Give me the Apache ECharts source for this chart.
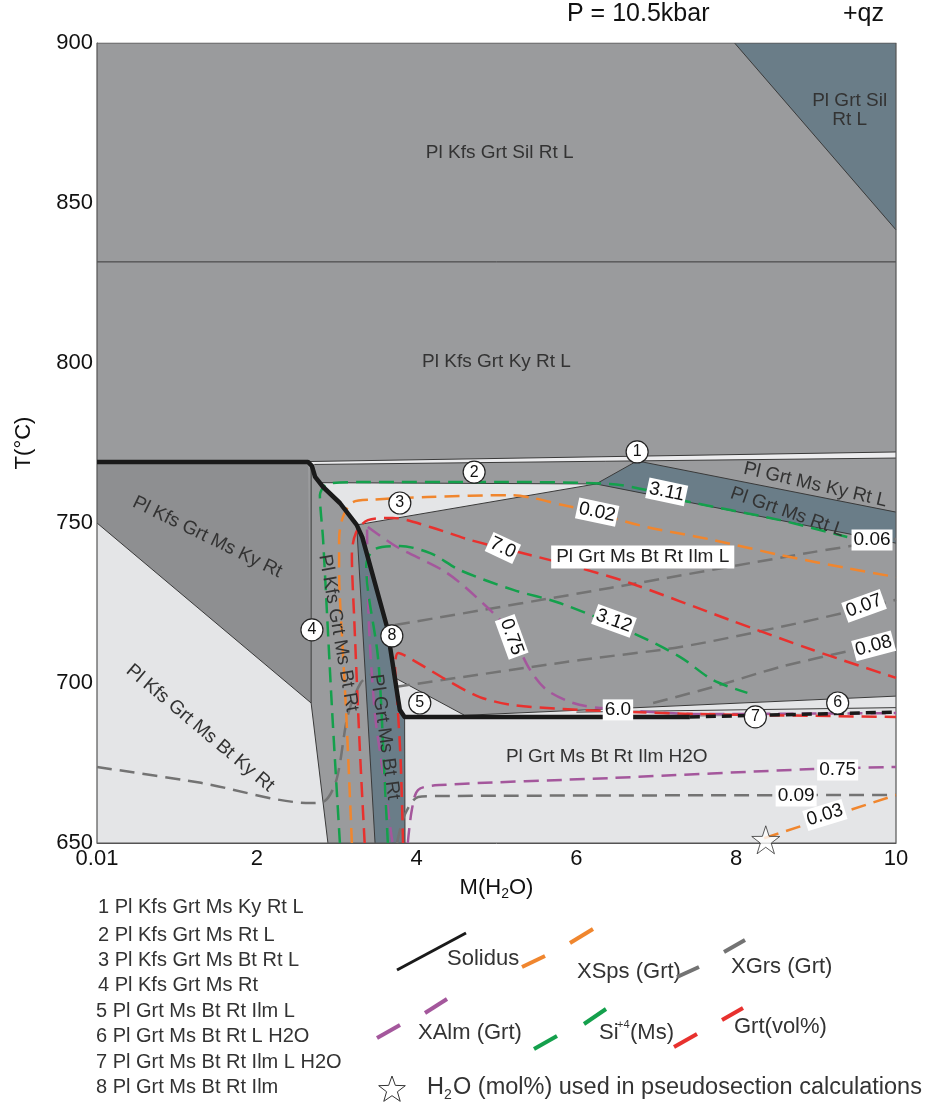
<!DOCTYPE html>
<html><head><meta charset="utf-8">
<script src="https://cdn.jsdelivr.net/npm/echarts@6/dist/echarts.min.js"></script>
<style>html,body{margin:0;padding:0;background:#fff}#c{width:930px;height:1107px}</style>
</head><body><div id="c"></div><script>
// ---------- axis ticks ----------
const xTicks = [0, 2, 4, 6, 8, 10];
const xTickLabels = ['0.01', '2', '4', '6', '8', '10'];
const yTicks = [650, 700, 750, 800, 850, 900];

// ---------- phase-field polygons  [M(H2O), T] ----------
const fieldAll = [[0,650],[10,650],[10,900],[0,900]];
const fieldSilRtL = [[7.98,900],[10,900],[10,841.6]];
const field1Strip = [[2.64,769.2],[10,772.2],[10,770.3],[2.72,768.3]];
const fieldMsKyRt = [[0,769.1],[2.64,769.1],[2.68,693.75],[0,750]];
const fieldMsBtKyRt = [[0,750],[2.68,693.75],[2.89,650],[0,650]];
const fieldGrtMsBtRt = [[3.25,749.4],[3.32,745.6],[3.63,717.5],[3.77,694.7],[3.79,691.6],[3.85,689.4],[3.855,650],[3.48,650]];
const field3 = [[2.79,762.6],[2.83,761.25],[3.04,756.25],[3.25,749.4],[6.245,762.2]];
const fieldMsRtL = [[6.245,762.2],[6.76,769.4],[10,753.4],[10,743.7]];
const field5 = [[3.73,701.6],[4.6,689.9],[3.82,689.6]];
const field6 = [[4.6,689.9],[10,695.9],[10,690.6],[4.6,689.5]];
const fieldH2O = [[3.85,689.4],[7.42,689.4],[10,690.9],[10,650],[3.855,650]];

// ---------- field boundaries ----------
const boundaries = [
  [[0,831.6],[10,831.6]],
  [[7.98,900],[10,841.6]],
  [[2.64,769.2],[10,772.2]],
  [[2.72,768.3],[10,770.3]],
  [[0,750],[2.68,693.75]],
  [[2.68,768.5],[2.68,693.75],[2.89,650]],
  [[3.25,749.4],[3.48,650]],
  [[3.85,689.4],[3.855,650]],
  [[2.79,762.6],[6.245,762.2]],
  [[3.25,749.4],[6.245,762.2]],
  [[6.245,762.2],[6.76,769.4],[10,753.4]],
  [[6.245,762.2],[10,743.7]],
  [[3.73,701.6],[4.6,689.9]],
  [[4.6,689.9],[10,695.9]],
  [[6.0,690.9],[10,692.3]]
];

// ---------- solidus ----------
const solidus = [[0,769.1],[2.64,769.1],[2.69,767.8],[2.73,764.4],[2.83,761.25],[3.04,756.25],[3.25,749.4],[3.32,745.6],[3.63,717.5],[3.77,694.7],[3.79,691.6],[3.85,689.4],[7.42,689.4]];
const solidusDashed = [[7.42,689.4],[10,690.9]];

// ---------- isopleths ----------
const xSps002 = [[3.19,650],[3.12,690],[3.07,713],[3.03,735],[3.03,745],[3.08,752],[3.2,756.5],[3.45,757.3],[4.13,758.1],[5.2,758.7],[5.46,757.8],[5.83,755.6],[6.26,753.4],[6.46,751.6],[6.88,748.75],[7.71,744.7],[8.55,740],[9.39,735.9],[10,733.1]];
const xSps003 = [[8.35,651.5],[10,665]];
const xGrs006 = [[3.73,718.1],[6.42,729.7],[8.96,740.9],[10,745]];
const xGrs007 = [[3.73,698.75],[6.05,707.2],[7.30,711.25],[8.55,717.5],[9.34,721.9],[10,726]];
const xGrs008 = [[6.96,693.75],[7.71,698.75],[8.55,705],[9.46,710.3],[10,713.4]];
const xGrs009 = [[3.755,650],[3.85,658.75],[4.02,664.4],[4.29,664.7],[10,665]];
const xGrsLeft = [[0,673.75],[1.3,668.8],[2.67,662.5],[2.85,663.1],[3.0,670],[3.14,690],[3.3,700],[3.45,703]];
const xAlm075a = [[3.39,748.75],[3.755,742.5],[4.38,734.4],[4.88,723.75],[5.17,716],[5.42,704.1],[5.63,697.8],[5.96,693.75],[6.30,692.2],[7.55,690.3],[10,690.6]];
const xAlmStrip = [[3.38,748],[3.40,720],[3.48,690],[3.58,672],[3.67,655],[3.70,650]];
const xAlm075b = [[3.89,650],[3.94,660.3],[4.02,666.6],[4.29,668.1],[6.42,670.3],[8.96,673.1],[10,673.75]];
const si311 = [[3.04,650],[2.94,692.5],[2.83,744.7],[2.79,758.75],[2.89,762.2],[3.29,762.8],[5.04,762.8],[6.42,762.2],[6.88,760.3],[7.30,757.2],[8.55,750.9],[9.39,745.6]];
const si312 = [[3.64,650],[3.60,669.7],[3.52,707.2],[3.39,729.1],[3.37,736.9],[3.48,741.9],[3.79,742.8],[4.17,740.6],[4.54,735.3],[5.21,729.1],[5.79,725],[6.71,715.6],[7.30,708.1],[7.71,700.9],[8.14,696.9]];
const grt70 = [[3.35,650],[3.29,679.1],[3.22,719.7],[3.19,740],[3.24,746.9],[3.39,750.9],[3.70,751.6],[4.17,748.75],[4.67,744.7],[5.42,740],[6.05,735.9],[6.67,731.25],[7.92,719.7],[8.96,710.3],[10,701.6]];
const grt60 = [[3.83,650],[3.80,675.9],[3.75,697.8],[3.73,705.6],[3.77,709.4],[3.95,707.2],[4.38,700.9],[4.79,695.6],[5.21,693.1],[5.83,691.9],[6.36,691.25],[7.55,690.3],[10,689.4]];

// ---------- text ----------
const fieldNames = [
  ['Pl Kfs Grt Sil Rt L', 5.04, 865.6, 0],
  ['Pl Grt Sil\nRt L', 9.42, 879, 0],
  ['Pl Kfs Grt Ky Rt L', 5.0, 800.3, 0],
  ['Pl Kfs Grt Ms Ky Rt', 1.38, 745.6, -26],
  ['Pl Kfs Grt Ms Bt Ky Rt', 1.29, 685.9, -40],
  ['Pl Kfs Grt Ms Bt Rt', 3.02, 715.6, -80],
  ['Pl Grt Ms Bt Rt', 3.6, 683.1, -82],
  ['Pl Grt Ms Ky Rt L', 8.99, 761.9, -13],
  ['Pl Grt Ms Rt L', 8.64, 753.4, -19],
  ['Pl Grt Ms Bt Rt Ilm H2O', 6.38, 676.9, 0]
];
const boxedNames = [['Pl Grt Ms Bt Rt Ilm L', 6.83, 739.4, 0]];
const valueLabels = [
  ['0.02', 6.26, 753.4, -12],
  ['3.11', 7.13, 759.7, -12],
  ['0.06', 9.70, 744.7, 0],
  ['7.0', 5.08, 742.2, -25],
  ['0.75', 5.19, 714.4, -70],
  ['3.12', 6.47, 719.4, -20],
  ['0.07', 9.60, 724.1, 20],
  ['0.08', 9.72, 711.6, 15],
  ['6.0', 6.52, 691.6, 0],
  ['0.75', 9.27, 672.8, 0],
  ['0.09', 8.75, 664.7, 0],
  ['0.03', 9.11, 658.75, 17]
];
const circleMarks = [
  ['1', 6.76, 772.2], ['2', 4.72, 765.9], ['3', 3.79, 756.25], ['4', 2.69, 716.6],
  ['5', 4.04, 693.75], ['6', 9.27, 693.75], ['7', 8.24, 689.4], ['8', 3.69, 714.7]
];
const starPoint = [[8.37, 651]];
const assemblageList = ['1 Pl Kfs Grt Ms Ky Rt L','2 Pl Kfs Grt Ms Rt L','3 Pl Kfs Grt Ms Bt Rt L','4 Pl Kfs Grt Ms Rt','5 Pl Grt Ms Bt Rt Ilm L','6 Pl Grt Ms Bt Rt L H2O','7 Pl Grt Ms Bt Rt Ilm L H2O','8 Pl Grt Ms Bt Rt Ilm'];

// ---------- styling ----------
const FONT = '"Liberation Sans", Arial, sans-serif';
const GRAY = '#9a9b9d', DGRAY = '#8e8f91', SLATE = '#6a7d88', LIGHT = '#e4e5e7';
const C_ORANGE = '#f0862e', C_GRAY = '#737373', C_PURPLE = '#a4579c', C_GREEN = '#14a04c', C_RED = '#e8312e';
const DASH = [15, 8];

function poly(pts, fill, z) {
  return { type: 'custom', z: z, silent: true, data: [pts[0]],
    renderItem: (params, api) => ({ type: 'polygon', shape: { points: pts.map(p => api.coord(p)) },
      style: { fill: fill, stroke: 'none' } }) };
}
function line(pts, color, width, type, smooth, z) {
  return { type: 'line', data: pts, symbol: 'none', showSymbol: false, smooth: smooth, silent: true, z: z,
    lineStyle: { color: color, width: width, type: type, cap: 'butt', join: 'round' } };
}
function texts(list, style, z) {
  return { type: 'custom', z: z, silent: true, data: list.map(d => [d[1], d[2]]),
    renderItem: (params, api) => {
      const d = list[params.dataIndex];
      const p = api.coord([d[1], d[2]]);
      return { type: 'text', x: p[0], y: p[1], rotation: d[3] * Math.PI / 180,
        style: Object.assign({ text: d[0], align: 'center', verticalAlign: 'middle', fontFamily: FONT }, style) };
    } };
}

const series = [];
series.push(poly(fieldAll, GRAY, 1));
series.push(poly(fieldSilRtL, SLATE, 1));
series.push(poly(fieldMsKyRt, DGRAY, 1));
series.push(poly(fieldMsBtKyRt, LIGHT, 1));
series.push(poly(field1Strip, '#ececee', 1));
series.push(poly(fieldGrtMsBtRt, SLATE, 1));
series.push(poly(field3, LIGHT, 1));
series.push(poly(fieldMsRtL, SLATE, 1));
series.push(poly(field5, LIGHT, 1));
series.push(poly(field6, LIGHT, 1));
series.push(poly(fieldH2O, LIGHT, 1));
boundaries.forEach(b => series.push(line(b, '#3a3a3a', 1, 'solid', false, 2)));
series.push(line(fieldAll.concat([fieldAll[0]]), '#555', 1.2, 'solid', false, 2));

series.push(line(xGrsLeft, C_GRAY, 2.5, DASH, 0.3, 3));
series.push(line(xGrs006, C_GRAY, 2.5, DASH, 0.3, 3));
series.push(line(xGrs007, C_GRAY, 2.5, DASH, 0.3, 3));
series.push(line(xGrs008, C_GRAY, 2.5, DASH, 0.3, 3));
series.push(line(xGrs009, C_GRAY, 2.5, DASH, 0.3, 3));
series.push(line(xAlmStrip, C_PURPLE, 2.5, DASH, 0.3, 3));
series.push(line(xAlm075a, C_PURPLE, 2.5, DASH, 0.3, 3));
series.push(line(xAlm075b, C_PURPLE, 2.5, DASH, 0.3, 3));
series.push(line(xSps002, C_ORANGE, 2.5, DASH, 0.3, 3));
series.push(line(xSps003, C_ORANGE, 2.5, DASH, 0, 3));
series.push(line(si311, C_GREEN, 2.5, DASH, 0.3, 3));
series.push(line(si312, C_GREEN, 2.5, DASH, 0.3, 3));
series.push(line(grt70, C_RED, 2.5, DASH, 0.3, 3));
series.push(line(grt60, C_RED, 2.5, DASH, 0.3, 3));

series.push(line(solidus, '#1a1a1a', 4.5, 'solid', false, 4));
series.push(line(solidusDashed, '#1a1a1a', 3.5, [10, 6], false, 4));

series.push(texts(fieldNames, { fill: '#333', fontSize: 19 }, 5));
series.push(texts(boxedNames, { fill: '#222', fontSize: 19, backgroundColor: '#fff', padding: [2, 5] }, 5));
series.push(texts(valueLabels, { fill: '#111', fontSize: 19, backgroundColor: '#fff', padding: [1, 2] }, 5));

series.push({ type: 'scatter', z: 6, silent: true, data: circleMarks.map(c => [c[1], c[2], c[0]]),
  symbol: 'circle', symbolSize: 22, itemStyle: { color: '#fff', borderColor: '#222', borderWidth: 1.2, opacity: 1 },
  label: { show: true, position: 'inside', formatter: p => p.value[2], color: '#111', fontSize: 16, fontFamily: FONT } });
const STAR = 'path://M12,0.5 L14.8,8.9 L23.6,9 L16.5,14.3 L19.2,22.8 L12,17.6 L4.8,22.8 L7.5,14.3 L0.4,9 L9.2,8.9 Z';
series.push({ type: 'scatter', z: 7, silent: true, data: starPoint, symbol: STAR, symbolSize: 28,
  itemStyle: { color: '#fff', borderColor: '#333', borderWidth: 1 } });

// ---------- legend graphics ----------
const graphic = [];
graphic.push({ type: 'text', x: 567, y: 2, style: { text: 'P = 10.5kbar', fontSize: 25, fill: '#111', fontFamily: FONT } });
graphic.push({ type: 'text', x: 843, y: 2, style: { text: '+qz', fontSize: 25, fill: '#111', fontFamily: FONT } });
const listY = [907, 935, 960, 985, 1011, 1036, 1062, 1087];
assemblageList.forEach((t, i) => graphic.push({ type: 'text', x: i < 4 ? 98 : 96, y: listY[i],
  style: { text: t, fontSize: 20, fill: '#333', fontFamily: FONT, verticalAlign: 'middle' } }));
const DY = -7;
function seg(x1, y1, x2, y2, c, w) { graphic.push({ type: 'line', shape: { x1: x1, y1: y1 + DY, x2: x2, y2: y2 + DY }, style: { stroke: c, lineWidth: w } }); }
function gtext(t, x, y, fs) { graphic.push({ type: 'text', x: x, y: y + DY, style: { text: t, fontSize: fs || 22, fill: '#333', fontFamily: FONT, verticalAlign: 'middle' } }); }
seg(397, 977, 466, 940, '#1a1a1a', 3);
gtext('Solidus', 447, 966);
seg(522, 974, 545, 963, C_ORANGE, 4); seg(570, 950, 593, 936, C_ORANGE, 4);
gtext('XSps (Grt)', 577, 979);
seg(677, 984, 699, 974, C_GRAY, 4); seg(724, 959, 745, 947, C_GRAY, 4);
gtext('XGrs (Grt)', 731, 974);
seg(377, 1045, 400, 1032, C_PURPLE, 4); seg(425, 1020, 447, 1006, C_PURPLE, 4);
gtext('XAlm (Grt)', 418, 1040);
seg(534, 1056, 557, 1043, C_GREEN, 4); seg(584, 1031, 606, 1016, C_GREEN, 4);
gtext('Si', 599, 1040); gtext('+4', 617, 1032, 11); gtext('(Ms)', 630, 1040);
seg(674, 1054, 697, 1041, C_RED, 4); seg(722, 1027, 743, 1015, C_RED, 4);
gtext('Grt(vol%)', 734, 1034);
const starPts = [];
for (let k = 0; k < 10; k++) {
  const r = k % 2 === 0 ? 14 : 5.7, a = -Math.PI / 2 + k * Math.PI / 5;
  starPts.push([392 + r * Math.cos(a), 1097 + DY + r * Math.sin(a)]);
}
graphic.push({ type: 'polygon', shape: { points: starPts }, style: { fill: '#fff', stroke: '#333', lineWidth: 1 } });
gtext('H', 427, 1095, 23.5); gtext('2', 444, 1102, 14); gtext('O (mol%) used in pseudosection calculations', 453, 1095, 23.5);

const chart = echarts.init(document.getElementById('c'), null, { renderer: 'canvas' });
chart.setOption({
  animation: false,
  backgroundColor: '#fff',
  grid: { left: 97, top: 43, width: 799, height: 800, containLabel: false },
  xAxis: { type: 'value', min: 0, max: 10, interval: 2,
    axisLine: { show: true, lineStyle: { color: '#555' } }, axisTick: { show: false }, splitLine: { show: false },
    axisLabel: { fontSize: 22, color: '#111', fontFamily: FONT, margin: 5, formatter: v => xTickLabels[xTicks.indexOf(v)] },
    name: 'M(H{s|2}O)', nameLocation: 'middle', nameGap: 30,
    nameTextStyle: { fontSize: 22, color: '#111', fontFamily: FONT, lineHeight: 26, rich: { s: { fontSize: 14, verticalAlign: 'bottom', fontFamily: FONT, color: '#111' } } } },
  yAxis: { type: 'value', min: 650, max: 900, interval: 50,
    axisLine: { show: true, lineStyle: { color: '#555' } }, axisTick: { show: false }, splitLine: { show: false },
    axisLabel: { fontSize: 22, color: '#111', fontFamily: FONT, margin: 4 },
    name: 'T(°C)', nameLocation: 'middle', nameGap: 62,
    nameTextStyle: { fontSize: 22, color: '#111', fontFamily: FONT } },
  series: series,
  graphic: graphic
});
</script></body></html>
